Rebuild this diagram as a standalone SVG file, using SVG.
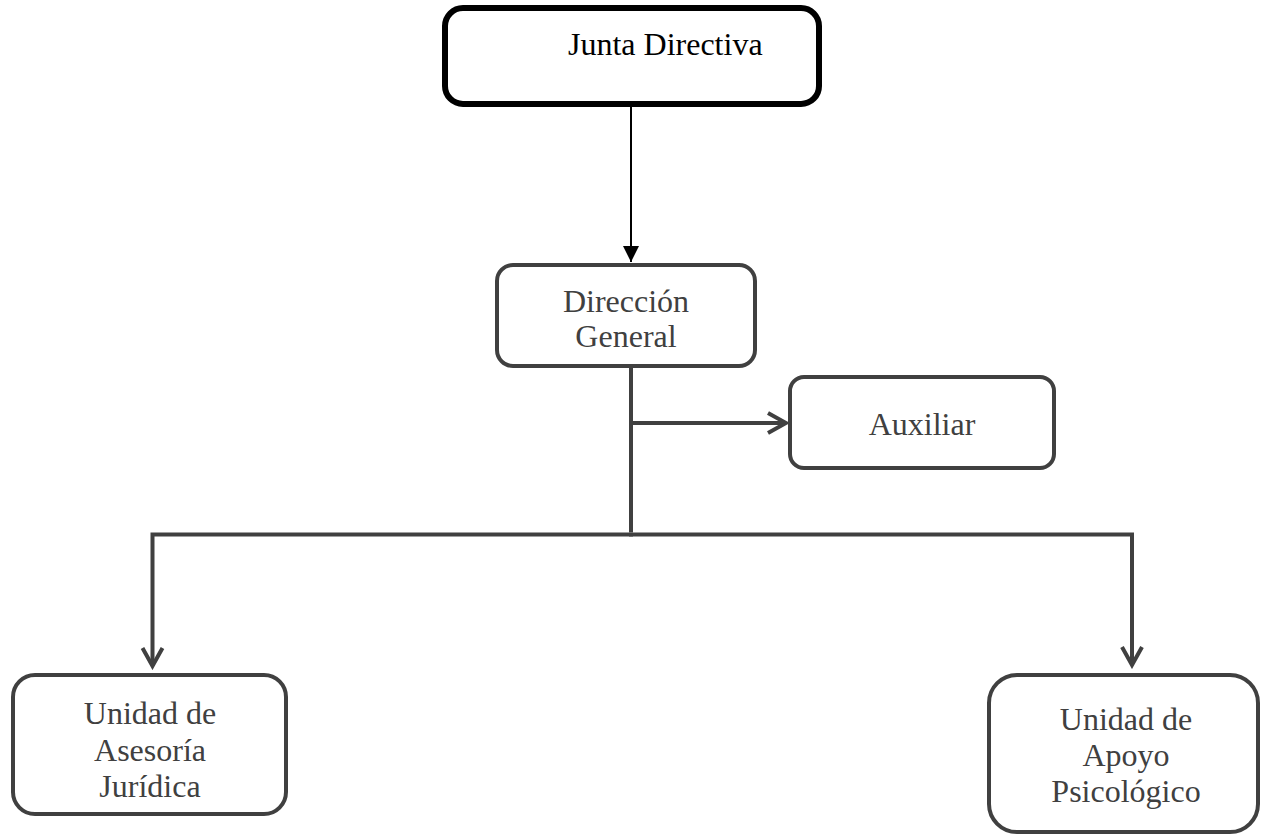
<svg xmlns="http://www.w3.org/2000/svg" width="1262" height="837" viewBox="0 0 1262 837">
  <style>
    .box { fill: #ffffff; stroke: #404040; stroke-width: 4; }
    .boxb { fill: #ffffff; stroke: #000000; stroke-width: 6; }
    .lbl { font-family: "Liberation Serif", "Times New Roman", serif; font-size: 32px; fill: #404040; text-anchor: middle; }
    .lblb { font-family: "Liberation Serif", "Times New Roman", serif; font-size: 32px; fill: #000000; }
    .conn { fill: none; stroke: #404040; stroke-width: 4; stroke-linejoin: miter; }
  </style>
  <defs>
    <marker id="chev" viewBox="-22 -13 26 26" refX="0" refY="0" markerWidth="26" markerHeight="26" markerUnits="userSpaceOnUse" orient="auto">
      <path d="M-18,-10 L0,0 L-18,10" fill="none" stroke="#404040" stroke-width="4" stroke-linejoin="miter"/>
    </marker>
    <marker id="tri" viewBox="-17 -9 19 18" refX="0" refY="0" markerWidth="19" markerHeight="18" markerUnits="userSpaceOnUse" orient="auto">
      <path d="M-16,-8 L0,0 L-16,8 Z" fill="#000000"/>
    </marker>
  </defs>

  <g id="connectors">
    <line x1="631" y1="107" x2="631" y2="262" stroke="#000000" stroke-width="2" marker-end="url(#tri)"/>
    <line class="conn" x1="631" y1="368" x2="631" y2="532"/>
    <line class="conn" x1="631" y1="423" x2="786" y2="423" marker-end="url(#chev)"/>
    <path class="conn" d="M633,534.5 H152.5 V666" marker-end="url(#chev)"/>
    <path class="conn" d="M629,534.5 H1132 V665" marker-end="url(#chev)"/>
  </g>

  <g id="junta-directiva">
    <rect class="boxb" x="445" y="8" width="374" height="96" rx="18" ry="18"/>
    <text class="lblb" x="568" y="55">Junta Directiva</text>
  </g>

  <g id="direccion-general">
    <rect class="box" x="497" y="265" width="258" height="101" rx="16" ry="16"/>
    <text class="lbl" x="626" y="312">Dirección</text>
    <text class="lbl" x="626" y="347">General</text>
  </g>

  <g id="auxiliar">
    <rect class="box" x="790" y="377" width="264" height="91" rx="14" ry="14"/>
    <text class="lbl" x="922" y="435">Auxiliar</text>
  </g>

  <g id="asesoria-juridica">
    <rect class="box" x="13" y="675" width="273" height="139" rx="22" ry="22"/>
    <text class="lbl" x="150" y="724">Unidad de</text>
    <text class="lbl" x="150" y="761">Asesoría</text>
    <text class="lbl" x="150" y="797">Jurídica</text>
  </g>

  <g id="apoyo-psicologico">
    <rect class="box" x="989" y="675" width="269" height="157" rx="28" ry="28"/>
    <text class="lbl" x="1126" y="730">Unidad de</text>
    <text class="lbl" x="1126" y="766">Apoyo</text>
    <text class="lbl" x="1126" y="802">Psicológico</text>
  </g>
</svg>
